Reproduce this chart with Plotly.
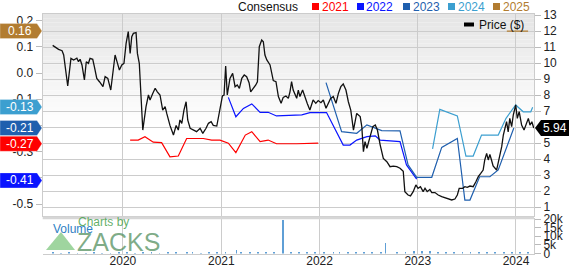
import plotly.graph_objects as go

W, H = 572, 265

# ---------------- data ----------------
price_dates = [
    "2019-04-15", "2019-04-25", "2019-05-07", "2019-05-20", "2019-05-26", "2019-06-10", "2019-06-22",
    "2019-07-02", "2019-07-14", "2019-07-20", "2019-07-26", "2019-08-02", "2019-08-11", "2019-08-18",
    "2019-08-26", "2019-09-01", "2019-09-11", "2019-09-17", "2019-09-26", "2019-10-06", "2019-10-19",
    "2019-10-27", "2019-11-06", "2019-11-17", "2019-11-25", "2019-12-03", "2019-12-12", "2019-12-19",
    "2019-12-28", "2020-01-05", "2020-01-13", "2020-01-21", "2020-01-28", "2020-02-03", "2020-02-09",
    "2020-02-19", "2020-02-24", "2020-03-02", "2020-03-15", "2020-03-27", "2020-04-05", "2020-04-11",
    "2020-04-21", "2020-04-30", "2020-05-08", "2020-05-18", "2020-05-28", "2020-06-06", "2020-06-12",
    "2020-06-24", "2020-07-07", "2020-07-17", "2020-07-25", "2020-07-31", "2020-08-07", "2020-08-15",
    "2020-08-23", "2020-08-29", "2020-09-07", "2020-09-19", "2020-10-01", "2020-10-14", "2020-10-24",
    "2020-11-05", "2020-11-14", "2020-11-24", "2020-12-02", "2020-12-15", "2020-12-27", "2021-01-05",
    "2021-01-11", "2021-01-17", "2021-01-23", "2021-02-02", "2021-02-12", "2021-02-21", "2021-03-01",
    "2021-03-09", "2021-03-18", "2021-03-27", "2021-04-05", "2021-04-14", "2021-04-20", "2021-04-30",
    "2021-05-09", "2021-05-15", "2021-05-22", "2021-05-31", "2021-06-06", "2021-06-12", "2021-06-19",
    "2021-07-01", "2021-07-13", "2021-07-23", "2021-08-01", "2021-08-11", "2021-08-19", "2021-08-29",
    "2021-09-07", "2021-09-13", "2021-09-19", "2021-09-25", "2021-10-02", "2021-10-08", "2021-10-14",
    "2021-10-20", "2021-10-30", "2021-11-08", "2021-11-16", "2021-11-26", "2021-12-08", "2021-12-18",
    "2021-12-27", "2022-01-06", "2022-01-15", "2022-01-25", "2022-02-02", "2022-02-11", "2022-02-21",
    "2022-03-03", "2022-03-12", "2022-03-21", "2022-03-30", "2022-04-09", "2022-04-18", "2022-04-27",
    "2022-05-07", "2022-05-13", "2022-05-19", "2022-06-01", "2022-06-07", "2022-06-13", "2022-06-19",
    "2022-06-26", "2022-07-08", "2022-07-18", "2022-07-27", "2022-08-04", "2022-08-14", "2022-08-26",
    "2022-09-08", "2022-09-20", "2022-10-02", "2022-10-15", "2022-10-27", "2022-11-08", "2022-11-14",
    "2022-11-26", "2022-12-05", "2022-12-15", "2022-12-25", "2023-01-02", "2023-01-11", "2023-01-21",
    "2023-01-28", "2023-02-05", "2023-02-15", "2023-02-22", "2023-03-06", "2023-03-18", "2023-03-31",
    "2023-04-12", "2023-04-24", "2023-05-07", "2023-05-19", "2023-05-28", "2023-06-04", "2023-06-17",
    "2023-06-25", "2023-07-04", "2023-07-14", "2023-07-26", "2023-08-05", "2023-08-14", "2023-08-23",
    "2023-09-01", "2023-09-07", "2023-09-14", "2023-09-20", "2023-09-26", "2023-10-02", "2023-10-08",
    "2023-10-21", "2023-10-27", "2023-11-02", "2023-11-09", "2023-11-15", "2023-11-21", "2023-11-27",
    "2023-12-03", "2023-12-09", "2023-12-16", "2023-12-22", "2023-12-31", "2024-01-06", "2024-01-13",
    "2024-01-22", "2024-01-31", "2024-02-10", "2024-02-16", "2024-02-22", "2024-02-29", "2024-03-07",
]
price_values = [
    11.1, 10.98, 10.85, 10.77, 10.5, 8.56, 10.29,
    10.19, 10.3, 10.08, 10.23, 9.88, 8.94, 10.08,
    9.98, 10.29, 10.23, 9.77, 9.04, 8.83, 8.52,
    9.15, 9.04, 8.31, 9.35, 10.5, 9.98, 9.56,
    9.88, 9.98, 11.23, 11.96, 10.6, 11.64, 11.85,
    11.9, 10.6, 9.98, 5.81, 7.27, 8.0, 7.69,
    8.1, 8.42, 8.2, 8.0, 7.06, 7.27, 6.85,
    6.1, 5.5, 6.1, 5.81, 6.44, 6.23, 7.06,
    7.58, 6.44, 5.92, 5.81, 5.71, 5.92, 5.6,
    5.92, 6.23, 6.33, 6.1, 6.06, 7.27, 7.94,
    8.0, 9.81, 8.0, 9.04, 9.35, 8.52, 8.63,
    8.42, 9.04, 9.25, 9.14, 8.77, 8.2, 8.42,
    8.63, 8.83, 11.02, 11.44, 11.33, 10.5, 10.19,
    9.88, 8.9, 8.83, 7.9, 7.48, 7.85, 7.94,
    7.79, 8.2, 8.83, 8.31, 8.0, 7.79, 8.31,
    7.9, 8.31, 7.79, 7.48, 7.06, 7.69, 7.48,
    7.65, 7.52, 7.69, 7.17, 7.48, 7.79, 7.9,
    7.48, 8.1, 8.52, 8.69, 8.31, 7.58, 7.06,
    5.81, 6.44, 6.85, 6.65, 6.02, 4.46, 5.08,
    4.67, 5.5, 6.02, 6.12, 5.81, 4.9, 4.04,
    3.83, 3.52, 3.56, 3.52, 3.42, 3.23, 1.96,
    1.75, 1.69, 1.96, 2.38, 2.17, 2.27, 1.96,
    2.17, 1.96, 2.1, 1.9, 1.9, 1.75, 1.65,
    1.58, 1.48, 1.44, 1.5, 1.75, 2.17, 2.17,
    2.27, 2.23, 2.31, 2.27, 2.58, 2.9, 3.1,
    3.31, 3.94, 4.35, 3.94, 4.29, 3.94, 3.56,
    3.31, 3.73, 4.14, 4.77, 5.5, 6.02, 6.33,
    5.7, 6.54, 6.02, 6.75, 7.38, 6.54, 6.96,
    6.12, 5.81, 6.23, 6.54, 6.12, 6.33, 5.94,
]

eps_2021_dates = ["2020-01-28", "2020-02-27", "2020-03-23", "2020-04-23", "2020-05-24", "2020-06-24",
                  "2020-07-25", "2020-08-25", "2020-10-26", "2020-11-26", "2020-12-27", "2021-01-27",
                  "2021-02-24", "2021-03-31", "2021-04-24", "2021-05-25", "2021-06-24", "2021-07-25",
                  "2021-10-08", "2021-12-27"]
eps_2021 = [-0.256, -0.256, -0.243, -0.264, -0.266, -0.32, -0.317, -0.25, -0.25, -0.256, -0.256,
            -0.268, -0.304, -0.237, -0.224, -0.262, -0.256, -0.27, -0.27, -0.268]

eps_2022_dates = ["2021-01-27", "2021-02-24", "2021-03-24", "2021-04-24", "2021-05-25", "2021-06-24",
                  "2021-07-25", "2021-10-27", "2021-11-26", "2022-01-27", "2022-03-30", "2022-04-24",
                  "2022-05-19", "2022-06-26", "2022-07-27", "2022-08-14", "2022-10-27", "2022-11-20",
                  "2022-12-28"]
eps_2022 = [-0.093, -0.167, -0.135, -0.118, -0.15, -0.15, -0.164, -0.16, -0.151, -0.151, -0.275,
            -0.275, -0.256, -0.243, -0.24, -0.256, -0.262, -0.351, -0.405]

eps_2023_dates = ["2022-01-25", "2022-02-21", "2022-03-24", "2022-05-19", "2022-06-26", "2022-08-20",
                  "2022-10-27", "2022-11-26", "2022-12-28", "2023-02-22", "2023-03-31", "2023-05-28",
                  "2023-06-25", "2023-07-14", "2023-08-19", "2023-09-26", "2023-10-27", "2023-12-24"]
eps_2023 = [-0.037, -0.128, -0.224, -0.23, -0.198, -0.22, -0.221, -0.351, -0.398, -0.398, -0.284,
            -0.25, -0.485, -0.485, -0.396, -0.396, -0.37, -0.21]

eps_2024_dates = ["2023-02-25", "2023-03-24", "2023-05-28", "2023-06-29", "2023-07-26", "2023-08-26",
                  "2023-10-27", "2023-11-25", "2023-12-31", "2024-01-28", "2024-02-25", "2024-03-03"]
eps_2024 = [-0.29, -0.139, -0.164, -0.317, -0.317, -0.237, -0.237, -0.173, -0.122, -0.148, -0.148, -0.131]

eps_2025_dates = ["2023-11-28", "2024-02-15"]
eps_2025 = [0.16, 0.16]

years = ["2021", "2022", "2023", "2024", "2025"]
year_colors = ["#ff0000", "#0a14ff", "#1f5fae", "#3c9fd0", "#b27c30"]
badge_values = [-0.27, -0.41, -0.21, -0.13, 0.16]
badge_order = [4, 3, 2, 0, 1]  # drawing order (top of stack last)

vol_dates = ["2019-04-15", "2019-05-15", "2019-06-15", "2019-07-15", "2019-08-15", "2019-09-15",
             "2019-10-15", "2019-11-15", "2019-12-15", "2020-01-15", "2020-02-15", "2020-03-15",
             "2020-04-15", "2020-05-15", "2020-06-15", "2020-07-15", "2020-08-26", "2020-09-15",
             "2020-10-15", "2020-11-15", "2020-12-15", "2021-01-15", "2021-02-25", "2021-03-15",
             "2021-04-15", "2021-05-15", "2021-06-15", "2021-07-15", "2021-08-17", "2021-09-15",
             "2021-10-15", "2021-11-15", "2021-12-15", "2022-01-15", "2022-02-21", "2022-03-15",
             "2022-04-15", "2022-05-15", "2022-06-15", "2022-07-15", "2022-08-15", "2022-09-02",
             "2022-10-15", "2022-11-15", "2022-12-16", "2023-01-15", "2023-02-15", "2023-03-15",
             "2023-04-15", "2023-05-15", "2023-06-15", "2023-07-15", "2023-08-15", "2023-09-15",
             "2023-10-15", "2023-11-15", "2023-12-15", "2024-01-15", "2024-02-15"]
vol_values = [300, 250, 300, 200, 250, 300, 200, 250, 300, 300, 250, 350,
              300, 250, 300, 300, 900, 300, 250, 300, 350, 400, 1900, 500,
              400, 500, 600, 500, 19500, 600, 500, 400, 500, 500, 1000, 400,
              300, 500, 400, 300, 400, 6200, 500, 700, 1400, 1200, 1500, 800,
              700, 600, 700, 800, 600, 700, 900, 1000, 1100, 1000, 900]

last_price = 5.94
price_ticks = list(range(1, 14))
eps_ticks = [0.2, 0.1, 0.0, -0.1, -0.2, -0.3, -0.4, -0.5]
vol_ticks = [0, 5000, 10000, 15000, 20000]
vol_tick_text = ["0", "5k", "10k", "15k", "20k"]

# ---------------- geometry helpers (pixel -> paper) ----------------
def px(x):
    return x / W

def py(y):
    return 1 - y / H

X0, X1 = 42.7, 534.0
MAIN_TOP, MAIN_BOT = 14.0, 216.0
VOL_TOP, VOL_BOT = 219.0, 253.5
FONT = "Liberation Sans, Arial, sans-serif"

fig = go.Figure()

eps_sets = [(eps_2021_dates, eps_2021), (eps_2022_dates, eps_2022), (eps_2023_dates, eps_2023),
            (eps_2024_dates, eps_2024), (eps_2025_dates, eps_2025)]
for (d, v), c in zip(eps_sets, year_colors):
    fig.add_trace(go.Scatter(x=d, y=v, mode="lines", line=dict(color=c, width=1.2),
                             xaxis="x", yaxis="y", showlegend=False, hoverinfo="skip"))

fig.add_trace(go.Scatter(x=price_dates, y=price_values, mode="lines",
                         line=dict(color="#111111", width=1.3),
                         xaxis="x", yaxis="y2", showlegend=False))

fig.add_trace(go.Bar(x=vol_dates, y=vol_values, marker=dict(color="#5f9fd6", line=dict(width=0)),
                     width=3 * 86400000, xaxis="x2", yaxis="y3", showlegend=False))

xrange = ["2019-03-09", "2024-03-08"]
grid = "#cccccc"
tickc = "#bbbbbb"
tfont = dict(family=FONT, size=12, color="#222222")

shapes = []
# gradient background of main plot
n_bands = 26
g_top, g_bot = MAIN_TOP, 124.0
for i in range(n_bands):
    y0 = g_top + (g_bot - g_top) * i / n_bands
    y1 = g_top + (g_bot - g_top) * (i + 1) / n_bands
    lvl = int(229 + (255 - 229) * (i + 0.5) / n_bands)
    shapes.append(dict(type="rect", xref="paper", yref="paper", x0=px(X0), x1=px(X1),
                       y0=py(y1), y1=py(y0), fillcolor=f"rgb({lvl},{lvl},{lvl})",
                       line=dict(width=0), layer="below"))
# separator between panels
shapes.append(dict(type="rect", xref="paper", yref="paper", x0=px(X0), x1=px(X1),
                   y0=py(219.2), y1=py(216.4), fillcolor="#d6d6d6", line=dict(width=0)))

# Zacks watermark triangle
shapes.append(dict(type="path", xref="paper", yref="paper",
                   path=f"M {px(46)},{py(250)} L {px(61)},{py(232)} L {px(75)},{py(250)} Z",
                   fillcolor="rgba(95,185,95,0.6)", line=dict(width=0)))

annotations = []
# EPS badges on the left
bh = 7.5 / 262.0  # half height in EPS units
for i in badge_order:
    v = badge_values[i]
    c = year_colors[i]
    shapes.append(dict(type="path", xref="paper", yref="y",
                       path=(f"M 0,{v + bh} L {px(37)},{v + bh} L {px(42)},{v} "
                             f"L {px(37)},{v - bh} L 0,{v - bh} Z"),
                       fillcolor=c, line=dict(color="rgba(255,255,255,0.35)", width=0.8)))
    annotations.append(dict(x=px(20), y=v, xref="paper", yref="y", text=f"{v:.2f}",
                            showarrow=False, xanchor="center", yanchor="middle",
                            font=dict(family=FONT, size=12, color="white")))

# last price marker on the right
ph = 0.5
shapes.append(dict(type="path", xref="paper", yref="y2",
                   path=(f"M {px(535)},{last_price} L {px(541)},{last_price + ph} L {px(569)},{last_price + ph} "
                         f"L {px(569)},{last_price - ph} L {px(541)},{last_price - ph} Z"),
                   fillcolor="#000000", line=dict(width=0)))
annotations.append(dict(x=px(555), y=last_price, xref="paper", yref="y2", text=f"{last_price:.2f}",
                        showarrow=False, xanchor="center", yanchor="middle",
                        font=dict(family=FONT, size=12, color="white")))

# top legend
annotations.append(dict(x=px(236), y=py(7), xref="paper", yref="paper", text="Consensus",
                        showarrow=False, xanchor="left", yanchor="middle",
                        font=dict(family=FONT, size=12, color="#111111")))
sq_x = [312, 357, 403, 448, 493]
for yr, c, sx in zip(years, year_colors, sq_x):
    shapes.append(dict(type="rect", xref="paper", yref="paper", x0=px(sx), x1=px(sx + 7),
                       y0=py(10), y1=py(3), fillcolor=c, line=dict(width=0)))
    annotations.append(dict(x=px(sx + 7.5), y=py(7), xref="paper", yref="paper", text=yr,
                            showarrow=False, xanchor="left", yanchor="middle",
                            font=dict(family=FONT, size=12, color=c)))

# price legend inside the plot
shapes.append(dict(type="rect", xref="paper", yref="paper", x0=px(464), x1=px(474),
                   y0=py(26.5), y1=py(22.5), fillcolor="#000000", line=dict(width=0)))
annotations.append(dict(x=px(477), y=py(25), xref="paper", yref="paper", text="Price ($)",
                        showarrow=False, xanchor="left", yanchor="middle",
                        font=dict(family=FONT, size=12, color="#111111")))

# volume label and watermark
annotations.append(dict(x=px(76), y=py(222), xref="paper", yref="paper", text="Charts by",
                        showarrow=False, xanchor="left", yanchor="middle",
                        font=dict(family=FONT, size=12, color="rgba(70,160,75,0.85)")))
annotations.append(dict(x=px(75), y=py(241.5), xref="paper", yref="paper", text="ZACKS",
                        showarrow=False, xanchor="left", yanchor="middle",
                        font=dict(family=FONT, size=25, color="rgba(85,145,95,0.75)")))
annotations.append(dict(x=px(51), y=py(229), xref="paper", yref="paper", text="Volume",
                        showarrow=False, xanchor="left", yanchor="middle",
                        font=dict(family=FONT, size=12, color="#2f7fc4")))

fig.update_layout(
    width=W, height=H, margin=dict(l=0, r=0, t=0, b=0, autoexpand=False),
    paper_bgcolor="white", plot_bgcolor="white", showlegend=False,
    font=dict(family=FONT, size=12, color="#222222"),
    bargap=0,
    xaxis=dict(domain=[px(X0), px(X1)], range=xrange, type="date", anchor="y",
               showgrid=True, gridcolor=grid, gridwidth=1, dtick="M12", tick0="2020-01-01",
               showticklabels=False, ticks="", showline=True, linecolor=grid, mirror=True,
               zeroline=False, fixedrange=True),
    xaxis2=dict(domain=[px(X0), px(X1)], range=xrange, type="date", anchor="y3", matches="x",
                showgrid=True, gridcolor=grid, gridwidth=1, dtick="M12", tick0="2020-01-01",
                tickformat="%Y", tickfont=tfont, ticks="", ticklabelstandoff=-4,
                showline=True, linecolor=grid, mirror=True, zeroline=False),
    yaxis=dict(domain=[py(MAIN_BOT), py(MAIN_TOP)], range=[(73 - MAIN_BOT) / 262.0, (73 - MAIN_TOP) / 262.0],
               side="left", anchor="x", showgrid=False, zeroline=False,
               tickvals=eps_ticks, ticktext=[f"{v:.1f}" for v in eps_ticks], tickfont=tfont,
               ticks="outside", ticklen=6, tickcolor=tickc, showline=True, linecolor=grid),
    yaxis2=dict(overlaying="y", side="right", anchor="x",
                range=[13 - (MAIN_BOT - 15) / 16.0, 13 - (MAIN_TOP - 15) / 16.0],
                tickvals=price_ticks, ticktext=[str(v) for v in price_ticks], tickfont=tfont,
                showgrid=True, gridcolor=grid, gridwidth=1, zeroline=False,
                ticks="outside", ticklen=6, tickcolor=tickc, showline=True, linecolor=grid),
    yaxis3=dict(domain=[py(VOL_BOT), py(VOL_TOP)], range=[0, 20000], side="right", anchor="x2",
                tickvals=vol_ticks, ticktext=vol_tick_text, tickfont=tfont,
                showgrid=False, zeroline=False, ticks="outside", ticklen=6, tickcolor=tickc,
                showline=True, linecolor=grid),
    shapes=shapes, annotations=annotations,
)

fig.write_html("out.html")
